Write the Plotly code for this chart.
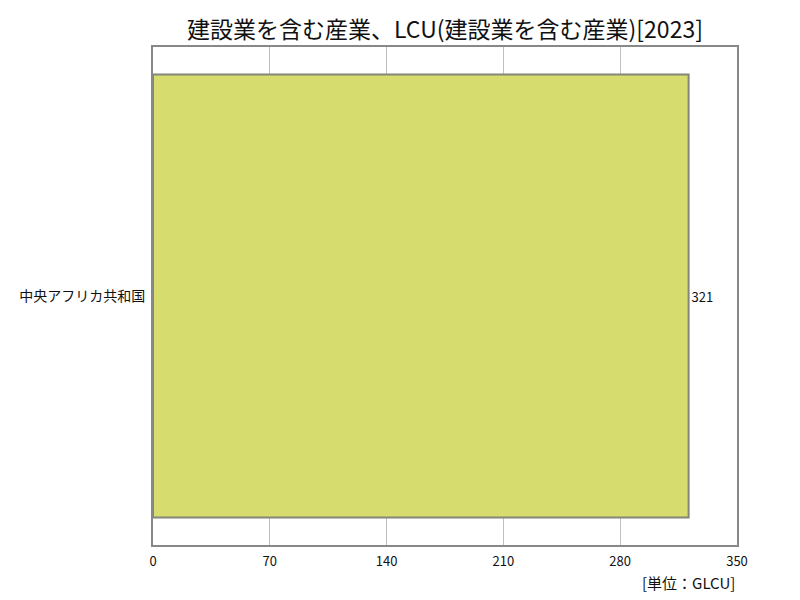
import plotly.graph_objects as go

# data
countries = ["中央アフリカ共和国"]
values = [321]
x_ticks = [0, 70, 140, 210, 280, 350]

TITLE = "建設業を含む産業、LCU(建設業を含む産業)[2023]"
UNIT = "[単位：GLCU]"
FONT = "Noto Sans CJK JP"

# page body adds an 8px offset, so the figure is a bit smaller than the window
W, H = 784, 592
L, R, T, B = 145, 55, 39, 55

fig = go.Figure()
fig.add_trace(
    go.Bar(
        y=countries,
        x=values,
        orientation="h",
        width=0.89,
        marker=dict(color="#d6dd6e", line=dict(color="#85857a", width=2)),
        text=[str(v) for v in values],
        textposition="outside",
        textfont=dict(family=FONT, size=13, color="#111"),
        cliponaxis=False,
    )
)

fig.update_layout(
    width=W,
    height=H,
    margin=dict(l=L, r=R, t=T, b=B),
    paper_bgcolor="white",
    plot_bgcolor="white",
    showlegend=False,
    font=dict(family=FONT, color="#111"),
    title=dict(
        text=TITLE,
        x=(L + (W - R)) / 2 / W,
        xanchor="center",
        y=1 - 22 / H,
        yanchor="middle",
        font=dict(family=FONT, size=23, color="#111"),
    ),
    xaxis=dict(
        range=[0, 350],
        tickvals=x_ticks,
        showgrid=True,
        gridcolor="#c0c0c0",
        gridwidth=1,
        zeroline=False,
        showline=True,
        linecolor="#888",
        linewidth=2,
        mirror=True,
        ticks="",
        tickfont=dict(family=FONT, size=13, color="#111"),
        ticklabelstandoff=3,
    ),
    yaxis=dict(
        showgrid=False,
        showline=True,
        linecolor="#888",
        linewidth=2,
        mirror=True,
        ticks="",
        tickfont=dict(family=FONT, size=14, color="#111"),
        ticklabelstandoff=3,
    ),
    annotations=[
        dict(
            text=UNIT,
            xref="paper",
            yref="paper",
            x=1,
            y=-37 / (H - T - B),
            xanchor="right",
            yanchor="middle",
            showarrow=False,
            font=dict(family=FONT, size=15, color="#111"),
        )
    ],
)

fig.write_html("out.html")
